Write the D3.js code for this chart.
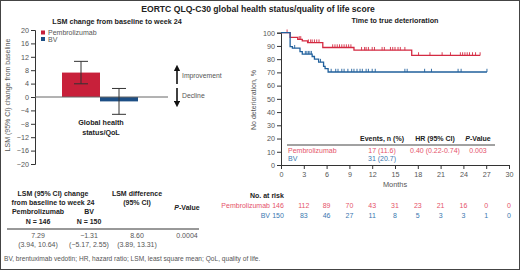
<!DOCTYPE html>
<html>
<head>
<meta charset="utf-8">
<script src="https://cdn.jsdelivr.net/npm/d3@7"></script>
<style>
  body { margin: 0; background: #fff; }
  svg { display: block; font-family: "Liberation Sans", Arial, sans-serif; }
</style>
</head>
<body>
<svg id="chart" width="520" height="270"></svg>
<script>
// ---- data ----
const arms = ['Pembrolizumab', 'BV'];
const lsmValues = [7.29, -1.31];
const lsmLower = [3.94, -5.17];
const lsmUpper = [10.64, 2.55];
const lsmTicks = [-20, -16, -12, -8, -4, 0, 4, 8, 12, 16, 20];

// Kaplan-Meier steps [month, % without deterioration]
const pembroSteps = [[0, 100], [1.2, 96.5], [2.2, 95], [2.8, 93.8], [3.5, 92.5], [5.5, 88.8], [9.6, 86.8], [17.2, 82.8]];
const pembroEnd = 26.2;
const pembroCensor = [0.8, 2.4, 2.6, 3.6, 3.9, 4.1, 4.4, 4.7, 5.0, 6.8, 7.1, 7.4, 7.7, 8.0, 8.3, 8.6, 8.9, 9.2,
  10.6, 11.0, 11.2, 11.5, 12.0, 12.3, 13.3, 13.6, 14.4, 14.7, 15.0, 15.4, 15.7, 16.3,
  18.1, 19.6, 21.2, 22.3, 23.6, 23.9, 24.2, 24.5, 24.8, 25.2, 25.6, 26.2];
const bvSteps = [[0, 100], [1.2, 89.5], [1.5, 88.3], [2.5, 85.7], [2.8, 83.8], [4.1, 82], [4.4, 80], [4.95, 77.8],
  [5.6, 74.5], [5.8, 72.8], [6.2, 70.3]];
const bvEnd = 27.1;
const bvCensor = [1.8, 3.2, 3.4, 3.6, 3.8, 4.0, 5.2, 5.6, 6.6, 7.2, 7.5, 8.0, 8.3, 8.8, 9.3, 9.6, 10.0, 10.4,
  10.7, 11.2, 11.5, 12.0, 12.4, 16.3, 16.6, 18.9, 19.8, 23.3, 23.7, 27.1];

const monthTicks = [0, 3, 6, 9, 12, 15, 18, 21, 24, 27, 30];
const pctTicks = [0, 10, 20, 30, 40, 50, 60, 70, 80, 90, 100];
const pembroAtRisk = [146, 112, 89, 70, 43, 31, 23, 21, 16, 0, 0];
const bvAtRisk = [150, 83, 46, 27, 11, 8, 5, 3, 3, 1, 0];

const eventRows = [
  ['Pembrolizumab', '17 (11.6)', '0.40 (0.22-0.74)', '0.003'],
  ['BV', '31 (20.7)', '', '']
];
const lsmTableValues = ['7.29', '\u22121.31', '8.60', '0.0004'];
const lsmTableCI = ['(3.94, 10.64)', '(\u22125.17, 2.55)', '(3.89, 13.31)'];

// ---- styles ----
const RED = '#c8203a', BLUE = '#1d4f85';
const RED_LINE = '#d42a42', BLUE_LINE = '#20609c';
const RED_TXT = '#e5536a', BLUE_TXT = '#3b78b0';
const GREY = '#555', DARK = '#222';

const svg = d3.select('#chart');

// frame
svg.append('rect').attr('x', 0.5).attr('y', 0.5).attr('width', 519).attr('height', 269)
  .attr('fill', 'none').attr('stroke', '#444').attr('stroke-width', 1);

function label(x, y, text, opts = {}) {
  return svg.append('text')
    .attr('x', x).attr('y', y)
    .attr('text-anchor', opts.anchor || 'middle')
    .attr('font-size', opts.size || 7)
    .attr('font-weight', opts.bold ? 'bold' : 'normal')
    .attr('font-style', opts.italic ? 'italic' : 'normal')
    .attr('fill', opts.fill || (opts.bold ? DARK : GREY))
    .text(text);
}

label(258, 12, 'EORTC QLQ-C30 global health status/quality of life score', { size: 8.6, bold: true });
label(117, 24, 'LSM change from baseline to week 24', { size: 7.2, bold: true });
label(395, 23, 'Time to true deterioration', { size: 7.2, bold: true });

// ---- left: bar chart ----
const yL = d3.scaleLinear().domain([-20, 20]).range([164, 30]);
const xL = d3.scaleBand().domain(arms).range([62, 138]).paddingInner(0);

const gL = svg.append('g');
gL.append('g')
  .attr('transform', 'translate(35,0)')
  .call(d3.axisLeft(yL).tickValues(lsmTicks).tickSize(4).tickPadding(2)
    .tickFormat(d => d < 0 ? '\u2212' + Math.abs(d) : d))
  .call(g => g.selectAll('text').attr('font-size', 7.2).attr('fill', GREY).attr('font-family', 'Liberation Sans, Arial'))
  .call(g => g.selectAll('line,path').attr('stroke', '#333'));

gL.selectAll('rect.bar').data(arms).enter().append('rect')
  .attr('x', d => xL(d))
  .attr('y', (d, i) => yL(Math.max(0, lsmValues[i])))
  .attr('width', xL.bandwidth())
  .attr('height', (d, i) => Math.abs(yL(lsmValues[i]) - yL(0)))
  .attr('fill', (d, i) => i === 0 ? RED : BLUE);

gL.append('line').attr('x1', 35).attr('x2', 168).attr('y1', yL(0)).attr('y2', yL(0))
  .attr('stroke', '#666').attr('stroke-width', 1);

arms.forEach((d, i) => {
  const cx = xL(d) + xL.bandwidth() / 2;
  gL.append('line').attr('x1', cx).attr('x2', cx).attr('y1', yL(lsmLower[i])).attr('y2', yL(lsmUpper[i]))
    .attr('stroke', '#333').attr('stroke-width', 1);
  [lsmLower[i], lsmUpper[i]].forEach(v => {
    gL.append('line').attr('x1', cx - 7).attr('x2', cx + 7).attr('y1', yL(v)).attr('y2', yL(v))
      .attr('stroke', '#333').attr('stroke-width', 1);
  });
});

// legend
arms.forEach((d, i) => {
  gL.append('rect').attr('x', 41).attr('y', 30.5 + i * 6.5).attr('width', 4).attr('height', 4)
    .attr('fill', i === 0 ? RED : BLUE);
  label(48, 35 + i * 6.5, d, { anchor: 'start', size: 7 });
});

// category label
label(101, 125, 'Global health', { size: 7.2, bold: true });
label(101, 135, 'status/QoL', { size: 7.2, bold: true });

// y label
svg.append('text')
  .attr('transform', 'translate(10,95) rotate(-90)')
  .attr('text-anchor', 'middle').attr('font-size', 7).attr('fill', GREY)
  .text('LSM (95% CI) change from baseline');

// improvement / decline arrows
const defs = svg.append('defs');
defs.append('marker').attr('id', 'arr').attr('viewBox', '0 0 10 10').attr('refX', 5).attr('refY', 5)
  .attr('markerWidth', 4).attr('markerHeight', 4).attr('orient', 'auto-start-reverse')
  .append('path').attr('d', 'M0,0 L10,5 L0,10 z').attr('fill', '#111');
svg.append('line').attr('x1', 177).attr('x2', 177).attr('y1', 84).attr('y2', 68)
  .attr('stroke', '#111').attr('stroke-width', 1.6).attr('marker-end', 'url(#arr)');
svg.append('line').attr('x1', 177).attr('x2', 177).attr('y1', 88).attr('y2', 104)
  .attr('stroke', '#111').attr('stroke-width', 1.6).attr('marker-end', 'url(#arr)');
label(182, 78, 'Improvement', { anchor: 'start', size: 6.8 });
label(182, 98, 'Decline', { anchor: 'start', size: 6.8 });

// ---- left table ----
label(53, 196, 'LSM (95% CI) change', { size: 7, bold: true });
label(53, 204.5, 'from baseline to week 24', { size: 7, bold: true });
label(137, 196, 'LSM difference', { size: 7, bold: true });
label(137, 204.5, '(95% CI)', { size: 7, bold: true });
const pv = svg.append('text').attr('x', 187).attr('y', 210).attr('text-anchor', 'middle')
  .attr('font-size', 7).attr('font-weight', 'bold').attr('fill', DARK);
pv.append('tspan').attr('font-style', 'italic').text('P');
pv.append('tspan').text('-Value');
label(38, 214, 'Pembrolizumab', { size: 7, bold: true });
label(89, 214, 'BV', { size: 7, bold: true });
label(38, 223.5, 'N = 146', { size: 7, bold: true });
label(89, 223.5, 'N = 150', { size: 7, bold: true });
svg.append('line').attr('x1', 7).attr('x2', 199).attr('y1', 229).attr('y2', 229).attr('stroke', '#333');
const colX = [38, 89, 137, 187];
lsmTableValues.forEach((t, i) => label(colX[i], 237.5, t, { size: 7 }));
lsmTableCI.forEach((t, i) => label(colX[i], 246.5, t, { size: 7 }));
label(4, 261, 'BV, brentuximab vedotin; HR, hazard ratio; LSM, least square mean; QoL, quality of life.',
  { anchor: 'start', size: 6.6 });

// ---- right: Kaplan-Meier ----
const xR = d3.scaleLinear().domain([0, 30]).range([281, 509]);
const yR = d3.scaleLinear().domain([0, 100]).range([165, 32.7]);

const gR = svg.append('g');
gR.append('g').attr('transform', 'translate(281,0)')
  .call(d3.axisLeft(yR).tickValues(pctTicks).tickSize(4).tickPadding(2))
  .call(g => g.selectAll('text').attr('font-size', 7.2).attr('fill', GREY).attr('font-family', 'Liberation Sans, Arial'))
  .call(g => g.selectAll('line,path').attr('stroke', '#333'));
gR.append('g').attr('transform', 'translate(0,165)')
  .call(d3.axisBottom(xR).tickValues(monthTicks).tickSize(4).tickPadding(3))
  .call(g => g.selectAll('text').attr('font-size', 7.2).attr('fill', GREY).attr('font-family', 'Liberation Sans, Arial'))
  .call(g => g.selectAll('line,path').attr('stroke', '#333'));

label(395, 187, 'Months', { size: 7.4 });
svg.append('text')
  .attr('transform', 'translate(256,100) rotate(-90)')
  .attr('text-anchor', 'middle').attr('font-size', 7).attr('fill', GREY)
  .text('No deterioration, %');

function survAt(steps, t) {
  let v = steps[0][1];
  steps.forEach(s => { if (s[0] <= t) v = s[1]; });
  return v;
}

function drawKM(steps, end, censor, color) {
  const pts = steps.concat([[end, steps[steps.length - 1][1]]]);
  const line = d3.line().x(d => xR(d[0])).y(d => yR(d[1])).curve(d3.curveStepAfter);
  gR.append('path').datum(pts).attr('d', line).attr('fill', 'none')
    .attr('stroke', color).attr('stroke-width', 1.3);
  gR.selectAll(null).data(censor).enter().append('line')
    .attr('x1', d => xR(d)).attr('x2', d => xR(d))
    .attr('y1', d => yR(survAt(steps, d)) - 3.2).attr('y2', d => yR(survAt(steps, d)))
    .attr('stroke', color).attr('stroke-width', 0.9);
}
drawKM(pembroSteps, pembroEnd, pembroCensor, RED_LINE);
drawKM(bvSteps, bvEnd, bvCensor, BLUE_LINE);

// events table inside plot
label(382, 141, 'Events, n (%)', { size: 7, bold: true });
label(435, 141, 'HR (95% CI)', { size: 7, bold: true });
const pv2 = svg.append('text').attr('x', 478).attr('y', 141).attr('text-anchor', 'middle')
  .attr('font-size', 7).attr('font-weight', 'bold').attr('fill', DARK);
pv2.append('tspan').attr('font-style', 'italic').text('P');
pv2.append('tspan').text('-Value');
svg.append('line').attr('x1', 287).attr('x2', 495).attr('y1', 145).attr('y2', 145).attr('stroke', '#444');
eventRows.forEach((r, i) => {
  const c = i === 0 ? RED_TXT : BLUE_TXT;
  const y = 153 + i * 8;
  label(288, y, r[0], { anchor: 'start', size: 7, fill: c });
  label(382, y, r[1], { size: 7, fill: c });
  label(435, y, r[2], { size: 7, fill: c });
  label(478, y, r[3], { size: 7, fill: c });
});

// number at risk
label(250, 198, 'No. at risk', { anchor: 'start', size: 7, bold: true });
label(270, 208, 'Pembrolizumab', { anchor: 'end', size: 7, fill: RED_TXT });
label(270, 218, 'BV', { anchor: 'end', size: 7, fill: BLUE_TXT });
monthTicks.forEach((m, i) => {
  label(xR(m) + (i === 0 ? -3 : 0), 208, pembroAtRisk[i], { size: 7, fill: RED_TXT });
  label(xR(m) + (i === 0 ? -3 : 0), 218, bvAtRisk[i], { size: 7, fill: BLUE_TXT });
});
</script>
</body>
</html>
